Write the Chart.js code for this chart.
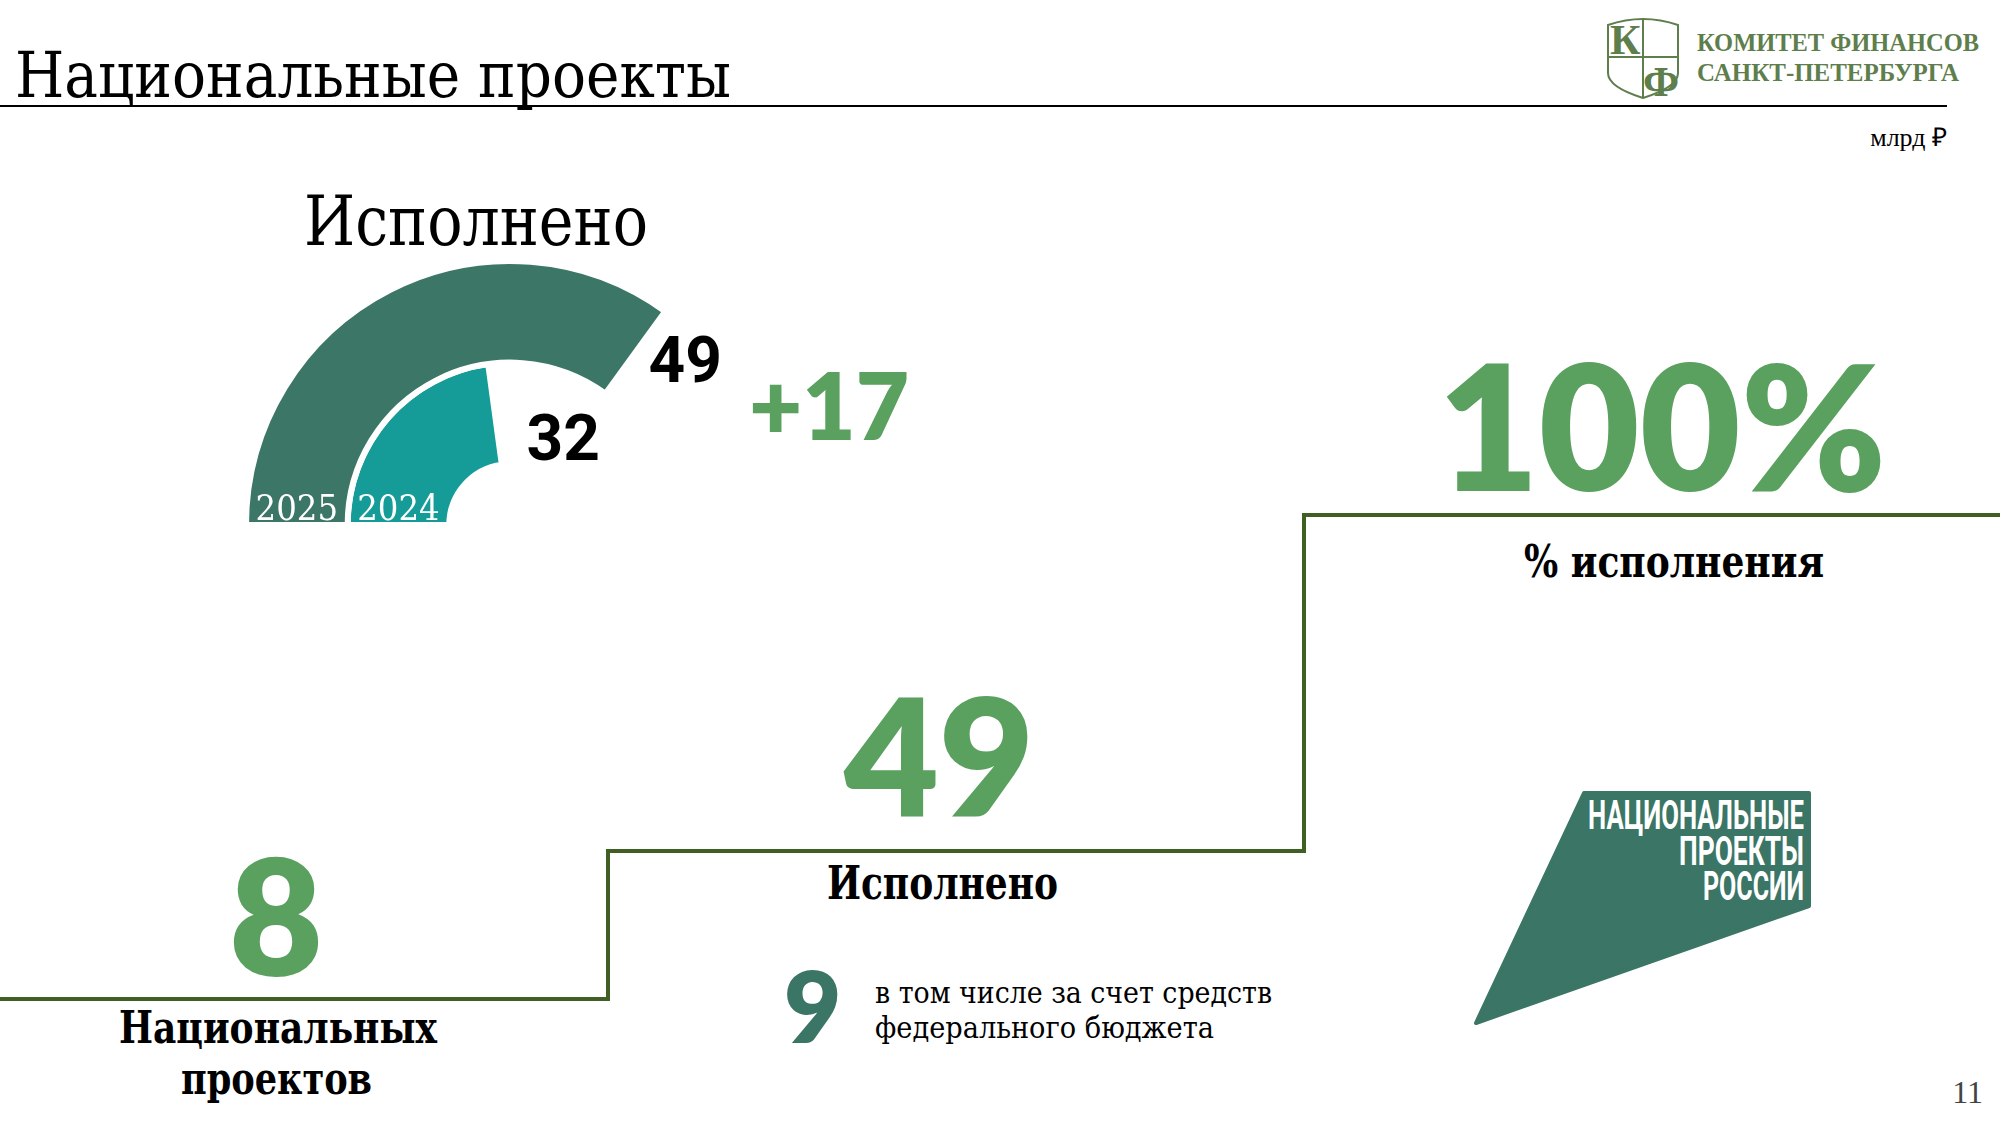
<!DOCTYPE html>
<html lang="ru">
<head>
<meta charset="utf-8">
<title>Национальные проекты</title>
<script src="https://cdn.jsdelivr.net/npm/chart.js@4.4.1/dist/chart.umd.min.js"></script>
<style>
  html, body { margin: 0; padding: 0; background: #fff; }
  #slide { position: relative; width: 2000px; height: 1125px; overflow: hidden; background: #fff; }
  #deco { position: absolute; left: 0; top: 0; }
  #gaugeBox { position: absolute; left: 200px; top: 250px; width: 800px; height: 310px; }
  .serif { font-family: 'DejaVu Serif Condensed', 'DejaVu Serif', serif; font-stretch: condensed; }
  .num { font-family: Lato, 'Open Sans', sans-serif; font-weight: 800; }
</style>
</head>
<body>
<div id="slide">
  <svg id="deco" width="2000" height="1125" viewBox="0 0 2000 1125">
    <!-- header -->
    <text class="serif" x="15" y="97" font-size="63" fill="#000" textLength="716" lengthAdjust="spacingAndGlyphs">Национальные проекты</text>
    <line x1="0" y1="106" x2="1947" y2="106" stroke="#000" stroke-width="2"/>

    <g transform="translate(1607,15)" fill="none" stroke="#5e7e4c" stroke-width="2">
      <path d="M1,10 Q36,-2 71,10 L71,58 Q71,72 36,83 Q1,72 1,58 Z"/>
      <line x1="36" y1="4" x2="36" y2="83"/>
      <line x1="1" y1="42" x2="71" y2="42"/>
      <text x="3" y="39" font-family="'Liberation Serif', serif" font-weight="bold" font-size="42" fill="#5e7e4c" stroke="none">К</text>
      <text x="36" y="81" font-family="'Liberation Serif', serif" font-weight="bold" font-size="42" fill="#5e7e4c" stroke="none">Ф</text>
    </g>
    <text x="1697" y="51" font-family="'Liberation Serif', serif" font-weight="bold" font-size="26" fill="#5e7e4c" textLength="282" lengthAdjust="spacingAndGlyphs">КОМИТЕТ ФИНАНСОВ</text>
    <text x="1697" y="81" font-family="'Liberation Serif', serif" font-weight="bold" font-size="26" fill="#5e7e4c" textLength="262" lengthAdjust="spacingAndGlyphs">САНКТ-ПЕТЕРБУРГА</text>
    <text x="1947" y="146" text-anchor="end" font-family="'Liberation Serif', serif" font-size="26" fill="#000">млрд ₽</text>

    <!-- gauge heading and delta -->
    <text class="serif" x="304" y="245" font-size="70" fill="#000" textLength="344" lengthAdjust="spacingAndGlyphs">Исполнено</text>
    <text id="deltaText" class="num" x="829" y="440" text-anchor="middle" font-size="92" fill="#5aa15f"></text>

    <!-- staircase -->
    <polyline points="0,999 608,999 608,851 1304,851 1304,515 2000,515" fill="none" stroke="#3f5f23" stroke-width="4"/>

    <text id="pctText" class="num" x="1662" y="491" text-anchor="middle" font-size="174" fill="#5aa15f"></text>
    <text class="serif" x="1524" y="577" font-size="44" font-weight="bold" fill="#000" textLength="300" lengthAdjust="spacingAndGlyphs">% исполнения</text>

    <text id="doneText" class="num" x="939" y="816" text-anchor="middle" font-size="164" fill="#5aa15f"></text>
    <text class="serif" x="827" y="899" font-size="46" font-weight="bold" fill="#000" textLength="231" lengthAdjust="spacingAndGlyphs">Исполнено</text>

    <text id="fedText" class="num" x="784" y="1043" font-size="99" fill="#3a7565"></text>
    <text class="serif" x="875" y="1003" font-size="30" fill="#000" textLength="397" lengthAdjust="spacingAndGlyphs">в том числе за счет средств</text>
    <text class="serif" x="875" y="1038" font-size="30" fill="#000" textLength="339" lengthAdjust="spacingAndGlyphs">федерального бюджета</text>

    <text id="projText" class="num" x="276" y="976" text-anchor="middle" font-size="162" fill="#5aa15f"></text>
    <text class="serif" x="119" y="1043" font-size="44" font-weight="bold" fill="#000" textLength="318" lengthAdjust="spacingAndGlyphs">Национальных</text>
    <text class="serif" x="181" y="1094" font-size="44" font-weight="bold" fill="#000" textLength="191" lengthAdjust="spacingAndGlyphs">проектов</text>

    <!-- national projects logo -->
    <g transform="translate(1470,785)">
      <polygon points="114,8 339,8 339,121 6,238" fill="#3a7565" stroke="#3a7565" stroke-width="4" stroke-linejoin="round"/>
      <text font-family="Roboto, sans-serif" font-weight="bold" font-size="40" fill="#fff"><tspan x="118" y="44" textLength="216" lengthAdjust="spacingAndGlyphs">НАЦИОНАЛЬНЫЕ</tspan><tspan x="209" y="80" textLength="125" lengthAdjust="spacingAndGlyphs">ПРОЕКТЫ</tspan><tspan x="233" y="115" textLength="101" lengthAdjust="spacingAndGlyphs">РОССИИ</tspan></text>
    </g>

    <text x="1983" y="1103" text-anchor="end" font-family="'Liberation Serif', serif" font-size="32" fill="#444">11</text>
  </svg>

  <div id="gaugeBox"><canvas id="gauge" width="800" height="310"></canvas></div>
</div>

<script>
// млрд ₽
const years = ['2025', '2024'];
const executed = [49, 32];
const gaugeMax = 70;

const nationalProjects = 8;
const federalProjects = 9;
const executionPct = 100;

const ringColors = ['#3b7667', '#159c98'];

document.getElementById('deltaText').textContent = '+' + (executed[0] - executed[1]);
document.getElementById('pctText').textContent = executionPct + '%';
document.getElementById('doneText').textContent = executed[0];
document.getElementById('fedText').textContent = federalProjects;
document.getElementById('projText').textContent = nationalProjects;

// where the value sits after the end of each ring
const valueSpots = [
    { deg: 10, k: 0.8 },
    { deg: 38, k: 0.44 }
];

const gaugeLabels = {
    id: 'gaugeLabels',
    afterDatasetsDraw(chart) {
        const ctx = chart.ctx;
        ctx.save();
        chart.data.datasets.forEach((ds, i) => {
            const arc = chart.getDatasetMeta(i).data[0];
            const p = arc.getProps(['x', 'y', 'startAngle', 'endAngle', 'innerRadius', 'outerRadius'], true);
            const mid = (p.innerRadius + p.outerRadius) / 2;

            ctx.font = '36px "DejaVu Serif Condensed", "DejaVu Serif", serif';
            ctx.fillStyle = '#fff';
            ctx.textAlign = 'center';
            ctx.textBaseline = 'alphabetic';
            ctx.fillText(ds.label, p.x + mid * Math.cos(p.startAngle), p.y - 5);

            const spot = valueSpots[i];
            const a = p.endAngle + spot.deg * Math.PI / 180;
            const r = p.innerRadius + (p.outerRadius - p.innerRadius) * spot.k;
            ctx.font = 'bold 64px Roboto, sans-serif';
            ctx.fillStyle = '#000';
            ctx.fillText(String(ds.data[0]), p.x + r * Math.cos(a), p.y + r * Math.sin(a) + 26);
        });
        ctx.restore();
    }
};

new Chart(document.getElementById('gauge'), {
    type: 'doughnut',
    data: {
        labels: ['Исполнено', ''],
        datasets: years.map((year, i) => ({
            label: year,
            data: [executed[i], gaugeMax - executed[i]],
            backgroundColor: [ringColors[i], 'rgba(0,0,0,0)'],
            borderColor: ['#ffffff', 'rgba(0,0,0,0)'],
            borderWidth: [6, 0]
        }))
    },
    options: {
        responsive: false,
        animation: false,
        events: [],
        rotation: -90,
        circumference: 180,
        radius: 264,
        cutout: '23%',
        layout: {
            padding: { left: 46, right: 226, top: 11, bottom: 35 }
        },
        plugins: {
            legend: { display: false },
            tooltip: { enabled: false }
        }
    },
    plugins: [gaugeLabels]
});
</script>
</body>
</html>
